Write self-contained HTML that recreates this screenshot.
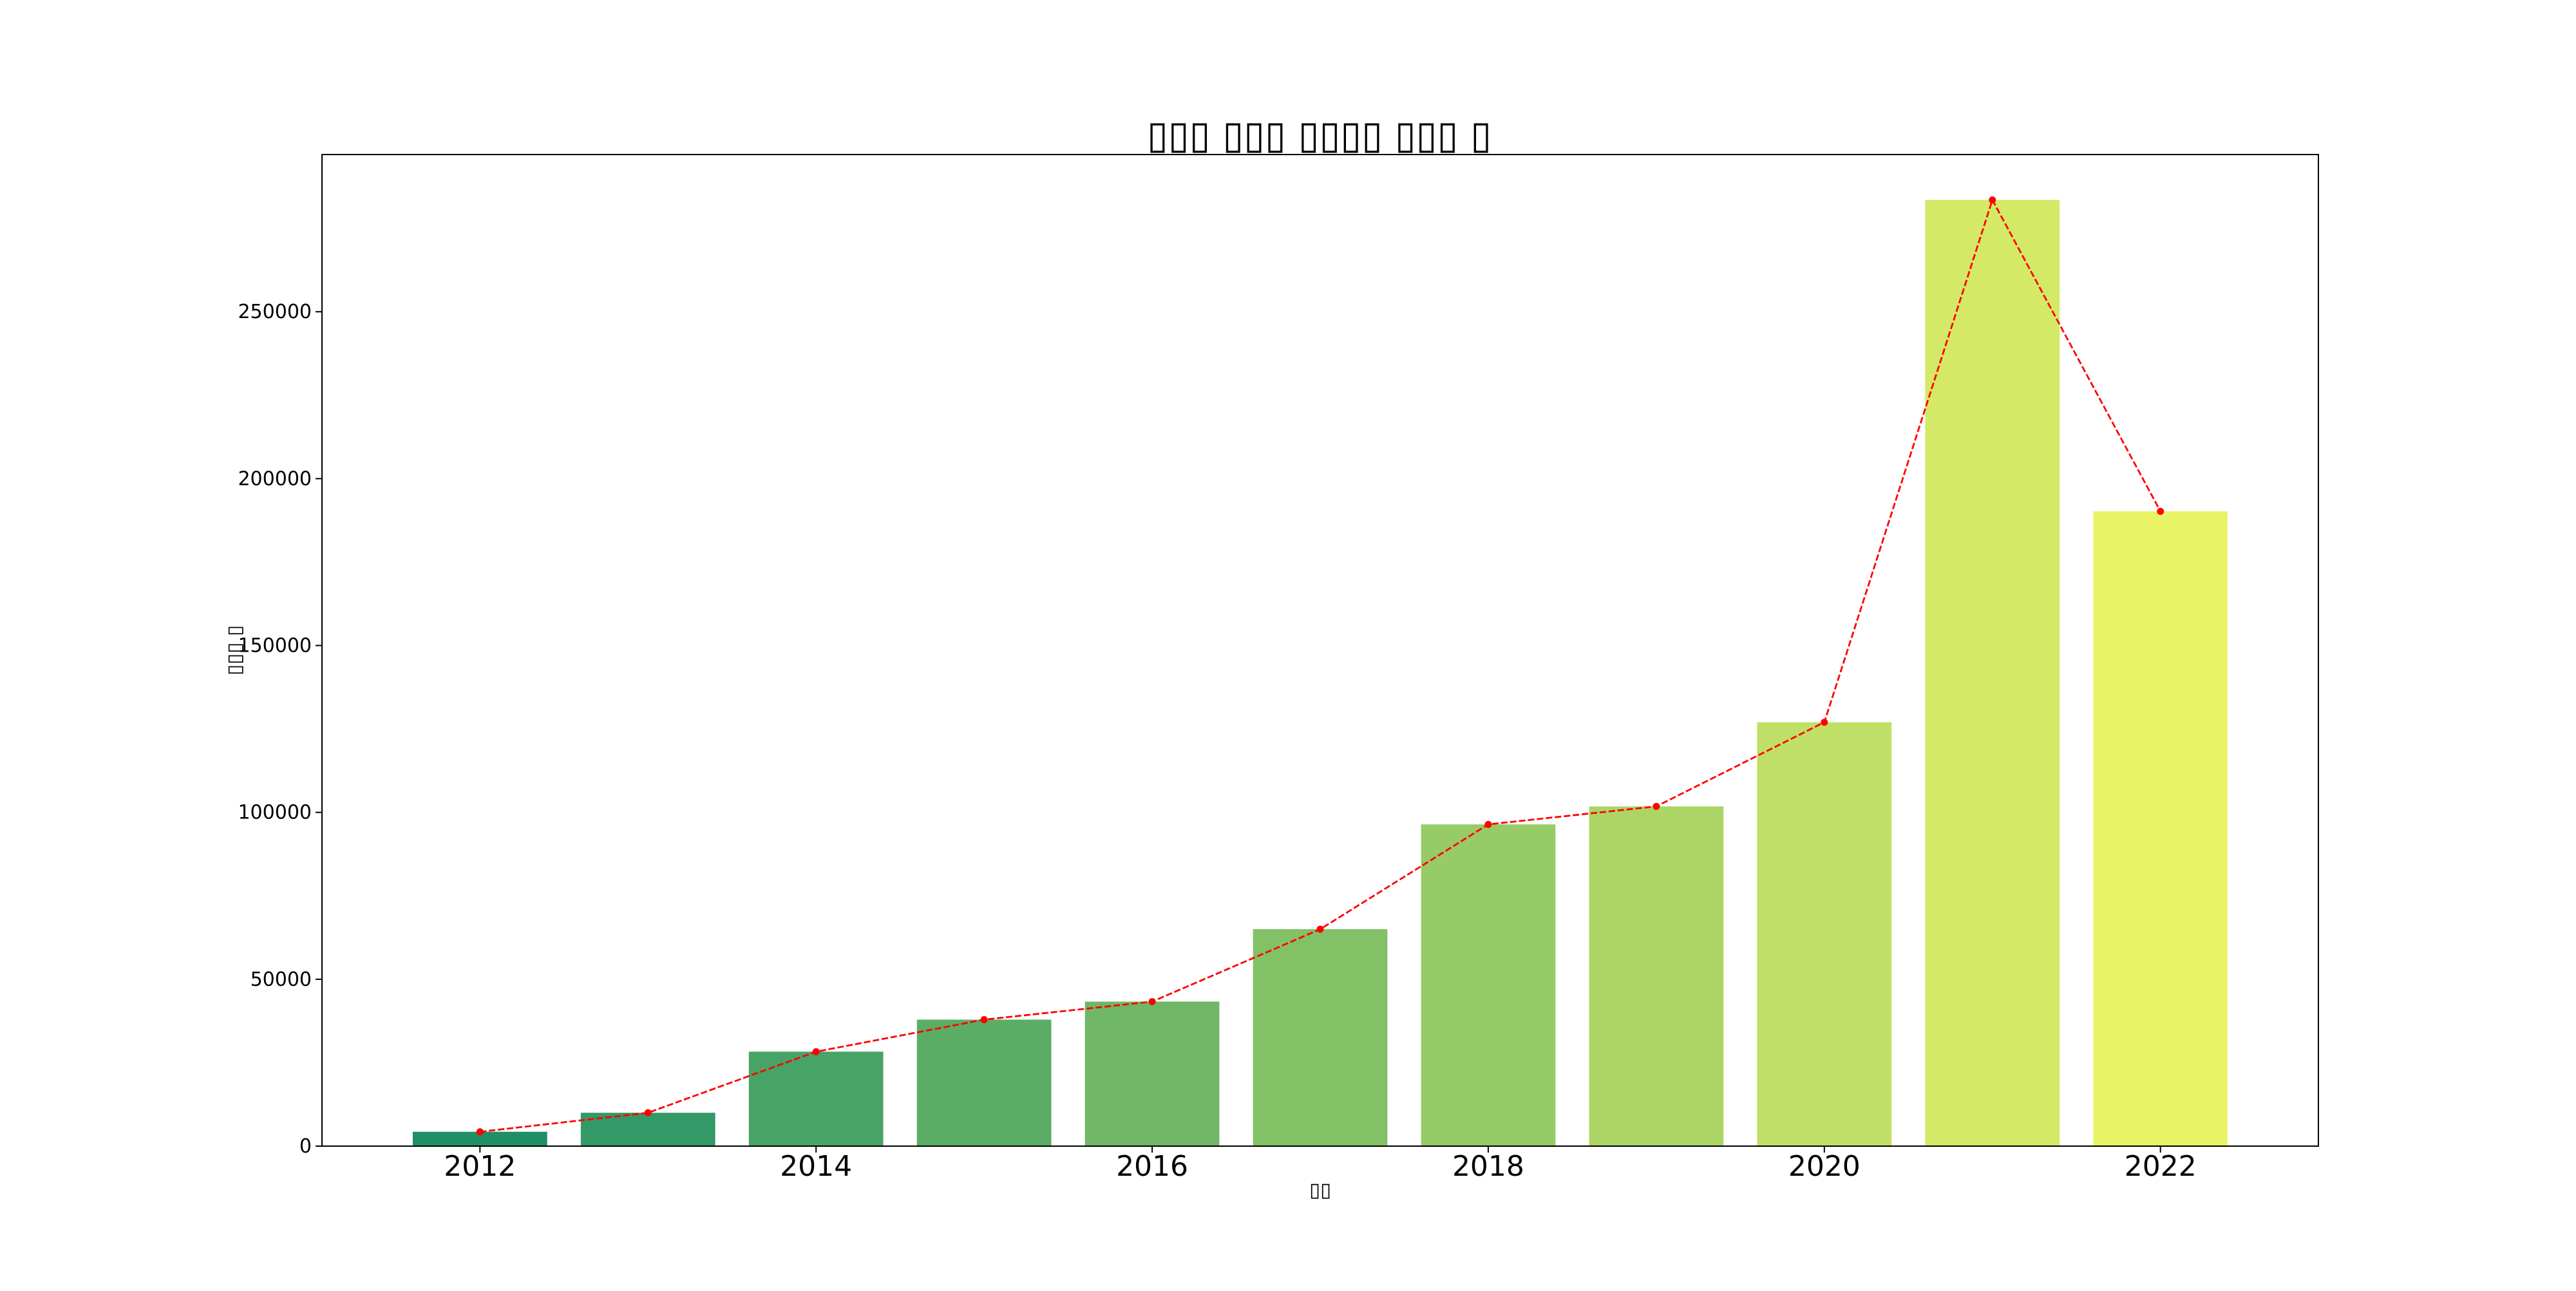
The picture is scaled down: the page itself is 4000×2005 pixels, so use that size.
<!DOCTYPE html>
<html><head><meta charset="utf-8"><style>
html,body{margin:0;padding:0;background:#fff}
svg text{font-family:"DejaVu Sans","Liberation Sans","Noto Sans CJK KR",sans-serif}
</style></head><body>
<svg id="chart" width="4000" height="2000" xmlns="http://www.w3.org/2000/svg">
<rect width="4000" height="2000" fill="#fff"/>
<text x="1781" y="230" font-size="60" textLength="535" lengthAdjust="spacingAndGlyphs">▯▯▯ ▯▯▯ ▯▯▯▯ ▯▯▯ ▯</text>
<g id="bars"></g>
<g id="line"></g>
<g id="axes"></g>
<text x="2033" y="1858" font-size="30" textLength="34" lengthAdjust="spacingAndGlyphs">▯▯</text>
<text transform="translate(374,1049) rotate(-90)" font-size="30" textLength="78" lengthAdjust="spacingAndGlyphs">▯▯▯ ▯</text>
</svg>
<script>
const years=[2012,2013,2014,2015,2016,2017,2018,2019,2020,2021,2022];
const values=[4300,10000,28300,37900,43300,65000,96400,101800,127000,283500,190200];
const xTicks=[2012,2014,2016,2018,2020,2022];
const yTicks=[0,50000,100000,150000,200000,250000];
const NS="http://www.w3.org/2000/svg";
const L=500,R=3600,T=240,B=1780;
const xmin=2011.06,xmax=2022.94,ymax=Math.max(...values)*1.048;
const X=v=>L+(v-xmin)/(xmax-xmin)*(R-L);
const Y=v=>B-v/ymax*(B-T);
function mk(t,a,p){const e=document.createElementNS(NS,t);for(const k in a)e.setAttribute(k,a[k]);p.appendChild(e);return e;}
const bars=document.getElementById('bars'),line=document.getElementById('line'),axes=document.getElementById('axes');
const n=years.length;
years.forEach((yr,i)=>{
  const r=0.12+0.79*i/(n-1);
  const col=`rgb(${Math.round(r*255)},${Math.round((0.5+r/2)*255)},102)`;
  const w=X(yr+0.4)-X(yr-0.4);
  const b=mk('rect',{x:X(yr-0.4),y:Y(values[i]),width:w,height:B-Y(values[i]),fill:col},bars);
  
  
});
const pts=years.map((yr,i)=>X(yr)+','+Y(values[i])).join(' ');
const pl=mk('polyline',{points:pts,fill:'none',stroke:'#ff0000','stroke-width':2.8,'stroke-dasharray':'10,4'},line);


years.forEach((yr,i)=>{
  const c=mk('circle',{cx:X(yr),cy:Y(values[i]),r:5.5,fill:'#ff0000'},line);
  
  
});
const fr=mk('rect',{x:L,y:T,width:R-L,height:B-T,fill:'none',stroke:'#000','stroke-width':2},axes);


xTicks.forEach(t=>{
  mk('line',{x1:X(t),x2:X(t),y1:B,y2:B+10,stroke:'#000','stroke-width':2},axes);
  const tx=mk('text',{x:X(t),y:B+46,'font-size':44,'text-anchor':'middle'},axes);
  tx.textContent=t;
  
  
});
yTicks.forEach(t=>{
  mk('line',{x1:L-10,x2:L,y1:Y(t),y2:Y(t),stroke:'#000','stroke-width':2},axes);
  const tx=mk('text',{x:L-16,y:Y(t)+10,'font-size':30,'text-anchor':'end'},axes);
  tx.textContent=t;
  
  
});
</script>
</body></html>
